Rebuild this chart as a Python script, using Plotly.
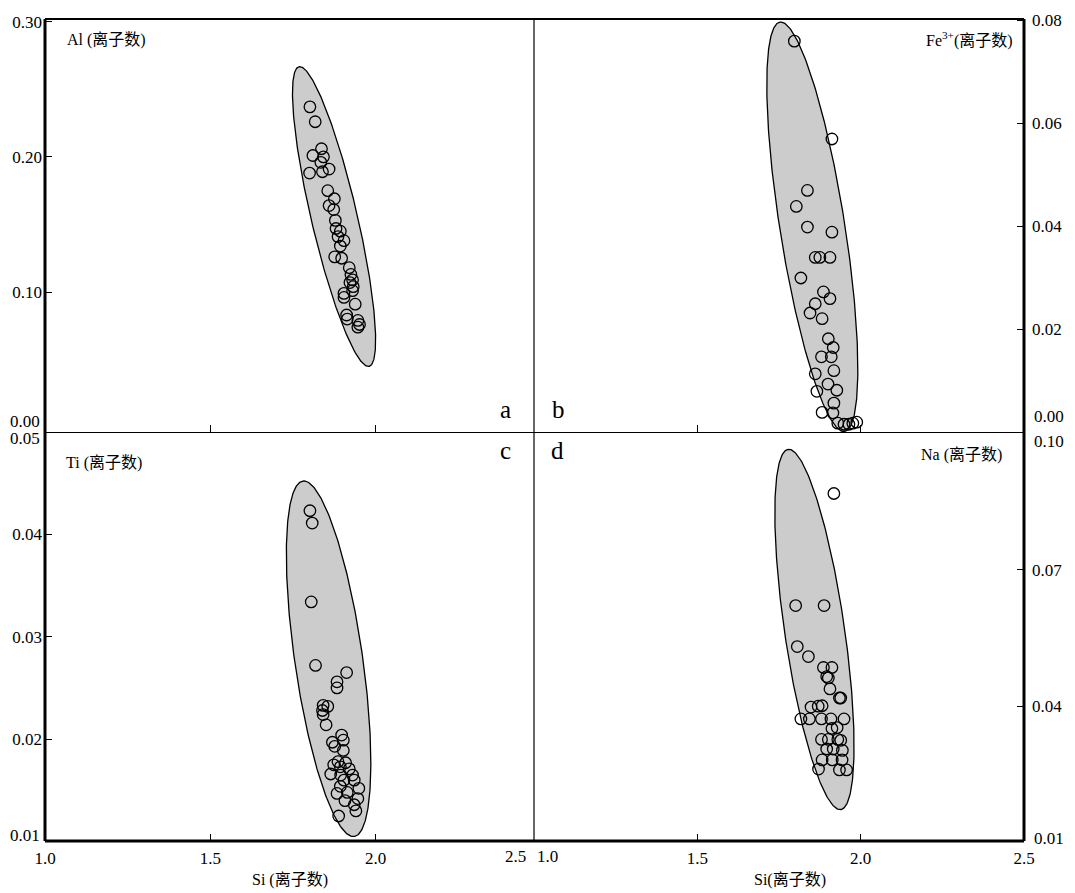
import numpy as np
import plotly.graph_objects as go

# ---------------- data ----------------
# a: Al vs Si
a_si = [1.801, 1.817, 1.836, 1.810, 1.842, 1.834, 1.859, 1.800, 1.839, 1.855,
        1.875, 1.859, 1.873, 1.878, 1.880, 1.893, 1.886, 1.904, 1.893, 1.876,
        1.897, 1.920, 1.925, 1.930, 1.922, 1.932, 1.930, 1.904, 1.904, 1.938,
        1.912, 1.914, 1.946, 1.951, 1.946]
a_al = [0.237, 0.226, 0.206, 0.201, 0.200, 0.196, 0.191, 0.188, 0.189, 0.175,
        0.169, 0.164, 0.161, 0.153, 0.147, 0.145, 0.141, 0.138, 0.134, 0.126,
        0.125, 0.118, 0.113, 0.109, 0.107, 0.104, 0.101, 0.099, 0.096, 0.091,
        0.083, 0.080, 0.079, 0.076, 0.074]
# b: Fe3+ vs Si
b_si = [1.797, 1.912, 1.837, 1.803, 1.837, 1.912, 1.861, 1.875, 1.906, 1.817,
        1.886, 1.906, 1.861, 1.845, 1.882, 1.901, 1.916, 1.880, 1.910, 1.918,
        1.861, 1.900, 1.927, 1.866, 1.918, 1.882, 1.915, 1.930, 1.949, 1.964,
        1.976, 1.988]
b_fe = [0.0760, 0.0570, 0.0470, 0.0439, 0.0399, 0.0389, 0.0340, 0.0340, 0.0340, 0.0300,
        0.0273, 0.0260, 0.0250, 0.0232, 0.0221, 0.0182, 0.0165, 0.0147, 0.0147, 0.0120,
        0.0114, 0.0094, 0.0082, 0.0080, 0.0057, 0.0039, 0.0038, 0.0018, 0.0016, 0.0016,
        0.0018, 0.0020]
# c: Ti vs Si
c_si = [1.801, 1.808, 1.805, 1.818, 1.912, 1.883, 1.883, 1.841, 1.855, 1.839,
        1.841, 1.850, 1.897, 1.902, 1.869, 1.876, 1.902, 1.886, 1.909, 1.873,
        1.893, 1.920, 1.864, 1.894, 1.930, 1.935, 1.904, 1.949, 1.893, 1.914,
        1.883, 1.946, 1.907, 1.935, 1.940, 1.888]
c_ti = [0.0423, 0.0411, 0.0334, 0.0272, 0.0265, 0.0256, 0.0250, 0.0233, 0.0232, 0.0228,
        0.0224, 0.0214, 0.0204, 0.0199, 0.0197, 0.0193, 0.0189, 0.0178, 0.0177, 0.0175,
        0.0173, 0.0171, 0.0166, 0.0165, 0.0165, 0.0160, 0.0160, 0.0152, 0.0154, 0.0148,
        0.0147, 0.0142, 0.0140, 0.0136, 0.0130, 0.0125]
# d: Na vs Si
d_si = [1.918, 1.801, 1.888, 1.806, 1.840, 1.886, 1.912, 1.896, 1.901, 1.906,
        1.935, 1.939, 1.848, 1.870, 1.882, 1.817, 1.843, 1.880, 1.909, 1.949,
        1.912, 1.928, 1.880, 1.901, 1.930, 1.939, 1.896, 1.916, 1.944, 1.882,
        1.913, 1.943, 1.871, 1.935, 1.957]
d_na = [0.0867, 0.0621, 0.0621, 0.0531, 0.0509, 0.0485, 0.0485, 0.0465, 0.0462, 0.0438,
        0.0418, 0.0418, 0.0398, 0.0400, 0.0401, 0.0372, 0.0372, 0.0372, 0.0372, 0.0372,
        0.0351, 0.0353, 0.0327, 0.0327, 0.0327, 0.0325, 0.0306, 0.0306, 0.0303, 0.0282,
        0.0282, 0.0282, 0.0262, 0.0260, 0.0260]

# envelope ellipses: two tips (Si, value)
env_a_tips = [(1.768, 0.2667), (1.980, 0.045)]
env_b_tips = [(1.753, 0.0797), (1.951, 0.0002)]
env_c_tips = [(1.780, 0.0452), (1.935, 0.0105)]
env_d_tips = [(1.778, 0.0964), (1.939, 0.0173)]

panel_letters = ["a", "b", "c", "d"]

# ---------------- layout geometry ----------------
W, H = 1075, 893
L, R, T, B = 43, 1024, 12, 841
PW, PH = R - L, B - T
XMID, YMID = 533, 429
XS = (XMID - L) / PW
YS = (B - YMID) / PH

rng = {
    "a": ([1.0, 2.4786], [-0.0039, 0.302]),
    "b": ([1.0, 2.5], [0.0, 0.0803]),
    "c": ([1.0, 2.4786], [0.01006, 0.04994]),
    "d": ([1.0, 2.5], [0.0104, 0.1001]),
}
size_px = {"a": (XMID - L, YMID - T), "b": (R - XMID, YMID - T),
           "c": (XMID - L, B - YMID), "d": (R - XMID, B - YMID)}
half_w = {"a": 23, "b": 32.5, "c": 34, "d": 30}


def px(X, Y):
    return (X - L) / PW, (B - Y) / PH


def ellipse(tips, key, n=300):
    xr, yr = rng[key]
    wpx, hpx = size_px[key]
    sx = wpx / (xr[1] - xr[0])
    sy = hpx / (yr[1] - yr[0])
    p1 = np.array([tips[0][0] * sx, tips[0][1] * sy])
    p2 = np.array([tips[1][0] * sx, tips[1][1] * sy])
    c = (p1 + p2) / 2
    v = (p1 - p2) / 2
    u = v / np.linalg.norm(v)
    perp = np.array([-u[1], u[0]])
    t = np.linspace(0, 2 * np.pi, n)
    pts = c + np.outer(np.cos(t), v) + np.outer(np.sin(t), perp * half_w[key])
    return pts[:, 0] / sx, pts[:, 1] / sy


SERIF = "Liberation Serif, Times New Roman, Noto Sans CJK SC, serif"
FILL = "#cccccc"
FS = 17

fig = go.Figure()
panels = [
    ("a", "x", "y", a_si, a_al, env_a_tips),
    ("b", "x2", "y2", b_si, b_fe, env_b_tips),
    ("c", "x3", "y3", c_si, c_ti, env_c_tips),
    ("d", "x4", "y4", d_si, d_na, env_d_tips),
]
for key, xa, ya, xs, ys, tips in panels:
    ex, ey = ellipse(tips, key)
    fig.add_trace(go.Scatter(x=ex, y=ey, mode="lines", fill="toself",
                             fillcolor=FILL, line=dict(color="black", width=1.3),
                             xaxis=xa, yaxis=ya, hoverinfo="skip", showlegend=False))
    fig.add_trace(go.Scatter(x=xs, y=ys, mode="markers",
                             marker=dict(symbol="circle-open", size=11.5, color="black",
                                         line=dict(width=1.3, color="black")),
                             xaxis=xa, yaxis=ya, showlegend=False, cliponaxis=False))

tickfont = dict(family=SERIF, size=FS, color="black")
common = dict(showgrid=False, zeroline=False, showline=False, ticks="inside",
              ticklen=7, tickwidth=1.3, tickcolor="black", tickfont=tickfont)

fig.update_layout(
    width=W, height=H,
    margin=dict(l=L, r=W - R, t=T, b=H - B, pad=0),
    paper_bgcolor="white", plot_bgcolor="white",
    font=dict(family=SERIF, color="black"),
    xaxis=dict(domain=[0, XS], range=rng["a"][0], anchor="y",
               tickvals=[1.5, 2.0], showticklabels=False, **common),
    yaxis=dict(domain=[YS, 1], range=rng["a"][1], anchor="x",
               tickvals=[0.10, 0.20, 0.30], ticktext=["0.10", "0.20", "0.30"],
               ticklabelstandoff=2, **common),
    xaxis2=dict(domain=[XS, 1], range=rng["b"][0], anchor="y2",
                tickvals=[1.5, 2.0], showticklabels=False, **common),
    yaxis2=dict(domain=[YS, 1], range=rng["b"][1], anchor="x2", side="right",
                tickvals=[0.02, 0.04, 0.06, 0.08],
                ticktext=["0.02", "0.04", "0.06", "0.08"],
                ticklabelstandoff=7, **common),
    xaxis3=dict(domain=[0, XS], range=rng["c"][0], anchor="y3",
                tickvals=[1.0, 1.5, 2.0], ticktext=["1.0", "1.5", "2.0"],
                ticklabelstandoff=5, **common),
    yaxis3=dict(domain=[0, YS], range=rng["c"][1], anchor="x3",
                tickvals=[0.02, 0.03, 0.04], ticktext=["0.02", "0.03", "0.04"],
                ticklabelstandoff=2, **common),
    xaxis4=dict(domain=[XS, 1], range=rng["d"][0], anchor="y4",
                tickvals=[1.5, 2.0, 2.5], ticktext=["1.5", "2.0", "2.5"],
                ticklabelstandoff=5, **common),
    yaxis4=dict(domain=[0, YS], range=rng["d"][1], anchor="x4", side="right",
                tickvals=[0.04, 0.07], ticktext=["0.04", "0.07"],
                ticklabelstandoff=7, **common),
)

# frame lines
shapes = []
def line(x0, y0, x1, y1, w):
    a0 = px(x0, y0); a1 = px(x1, y1)
    shapes.append(dict(type="line", xref="paper", yref="paper",
                       x0=a0[0], y0=a0[1], x1=a1[0], y1=a1[1],
                       line=dict(color="black", width=w), layer="above"))
line(L, T, L, B, 3)
line(L, B, R, B, 3)
line(R, T, R, B, 3)
line(L, T, R, T, 2)
line(XMID, T, XMID, B, 1.2)
line(L, YMID, R, YMID, 1.2)
fig.update_layout(shapes=shapes)

ann = []
def text(s, X, Y, size=FS, xanchor="center"):
    p = px(X, Y)
    ann.append(dict(text=s, x=p[0], y=p[1], xref="paper", yref="paper",
                    xanchor=xanchor, yanchor="middle", showarrow=False,
                    font=dict(family=SERIF, size=size, color="black")))

# edge tick labels
text("0.00", 40, 418, xanchor="right")
text("0.05", 40, 435, xanchor="right")
text("0.01", 40, 835, xanchor="right")
text("0.00", 1032, 413, xanchor="left")
text("0.10", 1032, 438, xanchor="left")
text("0.01", 1032, 838, xanchor="left")
text("2.5", 514, 857)
text("1.0", 547, 857)

# panel letters
for s, (X, Y) in zip(panel_letters, [(504, 406), (558, 406), (504, 447), (557, 447)]):
    text(s, X, Y, size=25)

# variable labels
text("Al (离子数)", 63, 33, size=16, xanchor="left")
text("Fe<sup>3+</sup>(离子数)", 1015, 33, size=16, xanchor="right")
text("Ti (离子数)", 62, 460, size=16, xanchor="left")
text("Na (离子数)", 1004, 452, size=16, xanchor="right")
text("Si (离子数)", 288, 880, size=16)
text("Si(离子数)", 790, 880, size=16)

fig.update_layout(annotations=ann)
fig.write_html("out.html", config={"displayModeBar": False},
               post_script="document.body.style.margin='0';document.body.style.overflow='hidden';")
